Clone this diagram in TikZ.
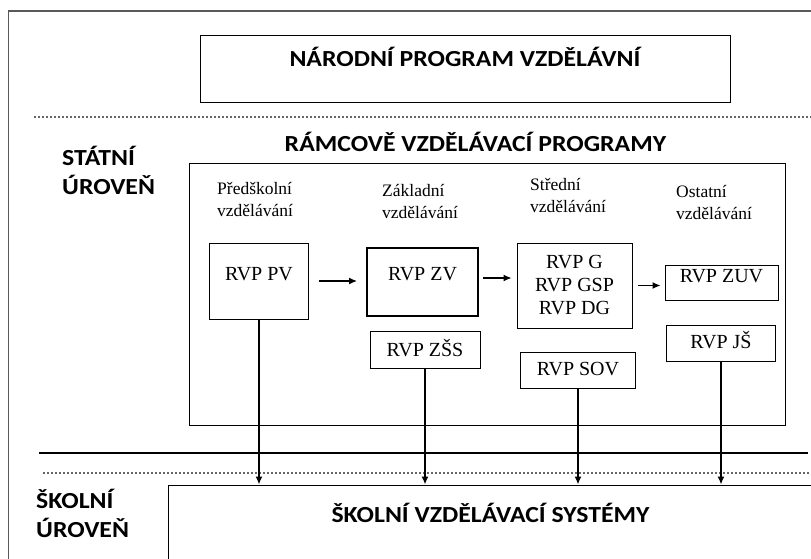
\documentclass[tikz,border=0pt]{standalone}
\usepackage{fontspec}
\setmainfont{Liberation Serif}
\newfontfamily\nadpisfont{Carlito}[FakeStretch=1.12]
\usetikzlibrary{arrows.meta}

\begin{document}
\begin{tikzpicture}[x=1pt, y=-1pt,
    nadpis/.style={font=\nadpisfont\bfseries\fontsize{23}{29}\selectfont, inner sep=0pt},
    stupen/.style={font=\fontsize{17.5}{22}\selectfont, align=left, inner sep=0pt},
    rvp/.style={draw, line width=0.9pt, font=\fontsize{20}{23}\selectfont, align=center, inner sep=0pt},
    radek/.style={rvp, text height=13pt, text depth=2pt},
    sipka/.style={-{Latex[length=8pt,width=7pt]}, line width=1.2pt},
    tecky/.style={draw=gray!80!black, line width=1.6pt, dash pattern=on 1.6pt off 2.4pt}]

    % Hranice obrázku
    \useasboundingbox (0,0) rectangle (811,559);
    \clip (0,0) rectangle (811,559);
    \draw[gray!70!black, line width=1.5pt] (8.5,570) |- (830,11);

    % Národní úroveň
    \node[draw, line width=0.9pt, minimum width=530pt, minimum height=67pt,
        nadpis, text height=15pt, text depth=18pt] (npv) at (465,68.5) {NÁRODNÍ PROGRAM VZDĚLÁVNÍ};
    \draw[tecky] (34,117) -- (811,117);

    % Státní úroveň
    \node[nadpis, anchor=base] (rvpnadpis) at (475.5,152) {RÁMCOVĚ VZDĚLÁVACÍ PROGRAMY};
    \node[nadpis, align=left, anchor=base west] (statni) at (62,194) {STÁTNÍ\\ÚROVEŇ};
    \node[draw, line width=0.9pt, minimum width=596pt, minimum height=262pt] (ramec) at (487,294) {};

    % Stupně vzdělávání
    \node[stupen, anchor=base west] (predskolni) at (217,216) {Předškolní\\vzdělávání};
    \node[stupen, anchor=base west] (zakladni) at (382,218) {Základní\\vzdělávání};
    \node[stupen, anchor=base west] (stredni) at (530,212) {Střední\\vzdělávání};
    \node[stupen, anchor=base west] (ostatni) at (676,219) {Ostatní\\vzdělávání};

    % Rámcové programy
    \node[radek, minimum width=99pt, minimum height=76pt, text depth=15pt] (pv) at (259,281) {RVP PV};
    \node[radek, line width=2pt, minimum width=111pt, minimum height=68pt, text depth=17pt] (zv) at (422.5,282) {RVP ZV};
    \node[radek, minimum width=110pt, minimum height=37pt, text depth=0pt] (zss) at (425,349.5) {RVP ZŠS};
    \node[rvp, minimum width=115pt, minimum height=85pt] (g) at (574.5,285.5) {RVP G\\RVP GSP\\RVP DG};
    \node[radek, minimum width=115pt, minimum height=36pt] (sov) at (578,370) {RVP SOV};
    \node[radek, minimum width=113pt, minimum height=35pt, text depth=14pt] (zuv) at (721.5,282.5) {RVP ZUV};
    \node[radek, minimum width=109pt, minimum height=36pt] (js) at (721,343) {RVP JŠ};

    % Návaznost programů
    \draw[sipka, shorten <=10pt, shorten >=9pt] (pv.east) -- (pv.east -| zv.west);
    \draw[sipka, shorten <=4pt, shorten >=5pt] ([yshift=4pt]zv.east) -- ([yshift=4pt]zv.east -| g.west);
    \draw[sipka, shorten <=6pt, shorten >=4pt] (g.east) -- (g.east -| zuv.west);

    % Hranice mezi úrovněmi
    \draw[line width=1.6pt] (39,453) -- (808,453);
    \draw[tecky] (43,473) -- (811,473);

    % Školní úroveň
    \node[nadpis, align=left, anchor=base west] (skolni) at (36,537) {ŠKOLNÍ\\ÚROVEŇ};
    \node[draw, line width=0.9pt, minimum width=645pt, minimum height=77pt,
        nadpis, text height=15pt, text depth=18pt] (skoly) at (490.5,523.5) {ŠKOLNÍ VZDĚLÁVACÍ SYSTÉMY};

    % Od programů ke školám
    \foreach \z in {pv, zss, sov, js}
        \draw[sipka, line width=1.8pt] (\z.south) -- (\z.south |- skoly.north);

\end{tikzpicture}
\end{document}
